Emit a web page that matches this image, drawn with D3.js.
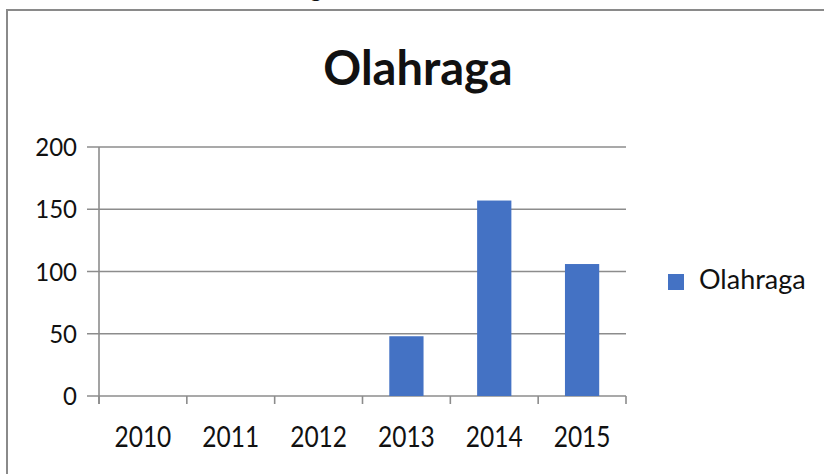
<!DOCTYPE html>
<html>
<head>
<meta charset="utf-8">
<script src="https://cdn.jsdelivr.net/npm/d3@7"></script>
<style>
  html, body { margin: 0; padding: 0; background: #fff; }
  svg { display: block; }
  text { font-family: Lato, "Open Sans", sans-serif; fill: #111; }
</style>
</head>
<body>
<svg id="chart" width="824" height="474"></svg>
<script>
// Chart data
const chartTitle = "Olahraga";
const seriesName = "Olahraga";
const years = ["2010", "2011", "2012", "2013", "2014", "2015"];
const values = [0, 0, 0, 48, 157, 106];
const yTicks = [0, 50, 100, 150, 200];

const svg = d3.select("#chart");
const W = 824, H = 474;
const plot = { left: 99, right: 626, top: 147, bottom: 396 };
const barColor = "#4472c4";
const lineColor = "#8c8c8c";

// Fragment of the caption above the frame, cut off by the page edge
svg.append("text")
  .attr("x", 316).attr("y", -3)
  .attr("text-anchor", "middle")
  .style("font-size", "24px")
  .text("g");

// Chart frame
svg.append("rect")
  .attr("x", 7).attr("y", 10)
  .attr("width", W + 20).attr("height", H + 20)
  .attr("fill", "#fff")
  .attr("stroke", "#8a8a8a")
  .attr("stroke-width", 2);

// Scales
const y = d3.scaleLinear().domain([0, 200]).range([plot.bottom, plot.top]);
const cat = d3.scaleBand().domain(years).range([plot.left, plot.right]).padding(0);
const x = d3.scaleBand().domain(years).range([plot.left, plot.right])
  .paddingInner(0.61).paddingOuter(0.305);

// Title
svg.append("text")
  .attr("x", 418).attr("y", 85)
  .attr("text-anchor", "middle")
  .style("font-size", "47px")
  .style("font-weight", "bold")
  .text(chartTitle);

// Horizontal gridlines (extending left of the axis as tick marks)
svg.append("g")
  .selectAll("line")
  .data(yTicks)
  .join("line")
  .attr("x1", plot.left - 12).attr("x2", plot.right)
  .attr("y1", d => y(d)).attr("y2", d => y(d))
  .attr("stroke", lineColor)
  .attr("stroke-width", 1.6);

// Y-axis labels
svg.append("g")
  .selectAll("text")
  .data(yTicks)
  .join("text")
  .attr("transform", d => `translate(77,${y(d) + 9}) scale(1,1.08)`)
  .attr("text-anchor", "end")
  .style("font-size", "24px")
  .text(d => d);

// Vertical axis line
svg.append("line")
  .attr("x1", plot.left).attr("x2", plot.left)
  .attr("y1", plot.top).attr("y2", plot.bottom + 8)
  .attr("stroke", lineColor)
  .attr("stroke-width", 1.6);

// Category boundary tick marks
const bounds = years.map(d => cat(d)).concat([plot.right]);
svg.append("g")
  .selectAll("line")
  .data(bounds)
  .join("line")
  .attr("x1", d => d).attr("x2", d => d)
  .attr("y1", plot.bottom).attr("y2", plot.bottom + 8)
  .attr("stroke", lineColor)
  .attr("stroke-width", 1.6);

// Bars
svg.append("g")
  .selectAll("rect")
  .data(years.map((d, i) => ({ year: d, value: values[i] })).filter(d => d.value > 0))
  .join("rect")
  .attr("x", d => x(d.year))
  .attr("width", x.bandwidth())
  .attr("y", d => y(d.value))
  .attr("height", d => y(0) - y(d.value))
  .attr("fill", barColor);

// X-axis labels (slightly tall, narrow digits)
svg.append("g")
  .selectAll("text")
  .data(years)
  .join("text")
  .attr("transform", d => `translate(${cat(d) + cat.bandwidth() / 2},447) scale(1,1.18)`)
  .attr("text-anchor", "middle")
  .style("font-size", "24.5px")
  .text(d => d);

// Legend
const legend = svg.append("g");
legend.append("rect")
  .attr("x", 668).attr("y", 274)
  .attr("width", 16).attr("height", 16)
  .attr("fill", barColor);
legend.append("text")
  .attr("x", 699).attr("y", 289)
  .style("font-size", "27px")
  .text(seriesName);
</script>
</body>
</html>
